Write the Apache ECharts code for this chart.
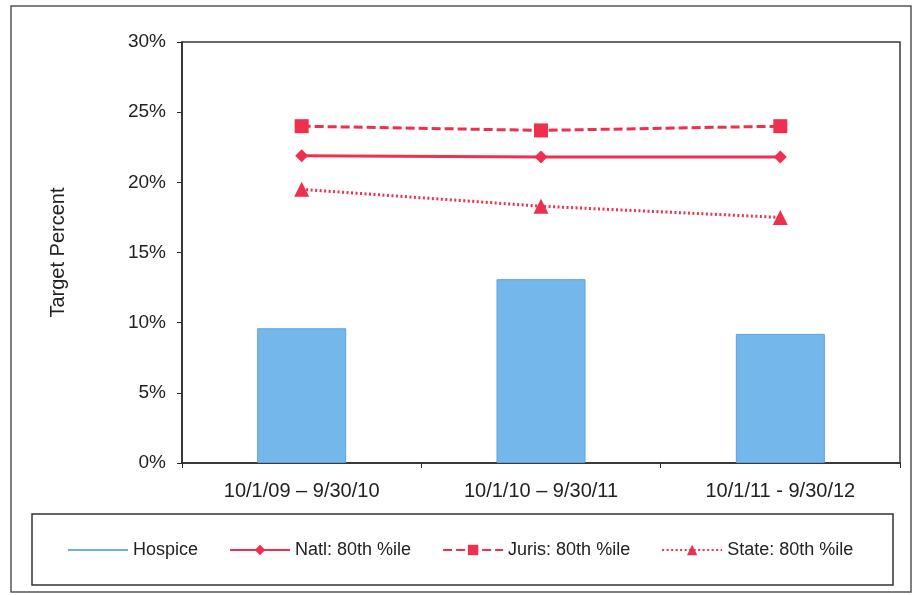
<!DOCTYPE html>
<html>
<head>
<meta charset="utf-8">
<script src="https://cdn.jsdelivr.net/npm/echarts@6/dist/echarts.min.js"></script>
<style>
  html, body { margin: 0; padding: 0; background: #fff; }
  #chart { width: 914px; height: 595px; }
</style>
</head>
<body>
<div id="chart"></div>
<script>
// Reporting periods
const periods = ['10/1/09 – 9/30/10', '10/1/10 – 9/30/11', '10/1/11 - 9/30/12'];
// Hospice rate per period (%)
const hospice = [9.6, 13.1, 9.2];
// 80th percentile targets (%)
const natl = [21.9, 21.8, 21.8];
const juris = [24.0, 23.7, 24.0];
const state = [19.5, 18.3, 17.5];
// Value axis ticks (%)
const yTicks = [0, 5, 10, 15, 20, 25, 30];

const red = '#ee2f4d';
const blue = '#74b7ea';
const font = '"Liberation Sans", Arial, sans-serif';

const chart = echarts.init(document.getElementById('chart'));
chart.setOption({
  backgroundColor: '#fff',
  animation: false,
  textStyle: { fontFamily: font },
  grid: {
    left: 182, right: 14, top: 42, bottom: 132,
    show: true, borderColor: '#3a3a3a', borderWidth: 1.5, backgroundColor: 'transparent'
  },
  graphic: [
    { type: 'rect', shape: { x: 11, y: 6, width: 900, height: 586 },
      style: { fill: 'none', stroke: '#555', lineWidth: 1.5 }, z: -1 },
    { type: 'rect', shape: { x: 32, y: 514, width: 861, height: 71 },
      style: { fill: 'none', stroke: '#333', lineWidth: 1.5 }, z: -1 }
  ],
  legend: {
    left: 68, top: 541, padding: 0,
    itemWidth: 60, itemHeight: 13, itemGap: 31, itemTextGap: 12,
    textStyle: { fontFamily: font, fontSize: 18, color: '#222' },
    data: [
      { name: 'Hospice', icon: 'path://M0,0H60V2H0Z',
        itemStyle: { color: '#6eb0e6', borderWidth: 0 } },
      'Natl: 80th %ile', 'Juris: 80th %ile', 'State: 80th %ile'
    ]
  },
  xAxis: {
    type: 'category',
    data: periods,
    axisLine: { lineStyle: { color: '#2a2a2a', width: 1.5 } },
    axisTick: { show: true, length: 5, lineStyle: { color: '#2a2a2a' } },
    axisLabel: { fontSize: 20, color: '#222', margin: 18 }
  },
  yAxis: {
    type: 'value',
    min: yTicks[0], max: yTicks[yTicks.length - 1], interval: 5,
    name: 'Target Percent',
    nameLocation: 'middle', nameGap: 114, nameRotate: 90,
    nameTextStyle: { fontSize: 20, color: '#222' },
    axisLine: { show: true, lineStyle: { color: '#2a2a2a', width: 1.5 } },
    axisTick: { show: true, length: 5, lineStyle: { color: '#2a2a2a' } },
    axisLabel: { fontSize: 19, color: '#222', margin: 16, formatter: v => v + '%' },
    splitLine: { show: false }
  },
  series: [
    {
      name: 'Hospice', type: 'bar', data: hospice, barWidth: 89,
      itemStyle: { color: blue, borderColor: '#5aa4e0', borderWidth: 1 }
    },
    {
      name: 'Natl: 80th %ile', type: 'line', data: natl,
      symbol: 'diamond', symbolSize: 13,
      lineStyle: { color: red, width: 3, type: 'solid' },
      itemStyle: { color: red }
    },
    {
      name: 'Juris: 80th %ile', type: 'line', data: juris,
      symbol: 'rect', symbolSize: 14,
      lineStyle: { color: red, width: 3, type: [9, 4] },
      itemStyle: { color: red }
    },
    {
      name: 'State: 80th %ile', type: 'line', data: state,
      symbol: 'triangle', symbolSize: 15,
      lineStyle: { color: red, width: 3, type: [2, 2.5] },
      itemStyle: { color: red }
    }
  ]
});
</script>
</body>
</html>
